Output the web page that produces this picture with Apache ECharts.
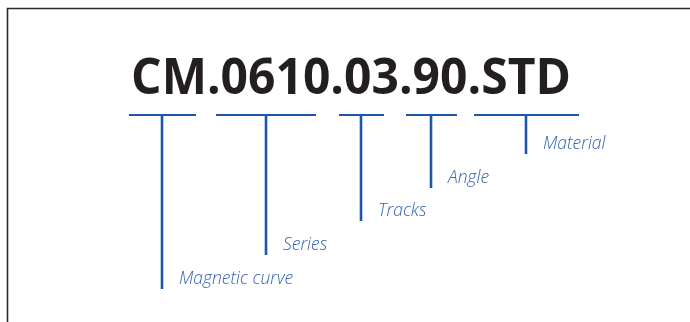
<!DOCTYPE html>
<html>
<head>
<meta charset="utf-8">
<script src="https://cdn.jsdelivr.net/npm/echarts@6/dist/echarts.min.js"></script>
<style>
html,body{margin:0;padding:0;background:#fff;}
#c{width:690px;height:322px;}
</style>
</head>
<body>
<div id="c"></div>
<script>
var codeText = 'CM.0610.03.90.STD';
var parts = ['CM', '0610', '03', '90', 'STD'];
var labels = ['Magnetic curve', 'Series', 'Tracks', 'Angle', 'Material'];
var barStart = [129, 216, 339, 406, 474];
var barEnd = [196, 316, 384, 457, 579];
var stemX = [162, 266, 361, 431, 526];
var stemBottom = [289, 255, 221, 188, 154];
var barY = 115;

var chart = echarts.init(document.getElementById('c'));
var data = parts.map(function (p, i) {
  return [barStart[i], barEnd[i], stemX[i], stemBottom[i], labels[i]];
});
chart.setOption({
  animation: false,
  grid: {left: 0, right: 0, top: 0, bottom: 0},
  xAxis: {type: 'value', min: 0, max: 690, show: false},
  yAxis: {type: 'value', min: 0, max: 322, inverse: true, show: false},
  graphic: [
    {type: 'polyline', shape: {points: [[7.5, 322], [7.5, 8.5], [690, 8.5]]},
     style: {stroke: '#2b2b2b', lineWidth: 1.6, fill: null}},
    {type: 'text', x: 351, y: 85, scaleY: 1.06, originX: 351, originY: 85,
     style: {text: codeText, textAlign: 'center', textVerticalAlign: 'middle',
       font: 'bold 48px "Open Sans"', fill: '#231f20'}}
  ],
  series: [{
    type: 'custom',
    coordinateSystem: 'cartesian2d',
    data: data,
    renderItem: function (params, api) {
      var a = api.coord([api.value(0), barY]);
      var b = api.coord([api.value(1), barY]);
      var s = api.coord([api.value(2), barY]);
      var e = api.coord([api.value(2), api.value(3)]);
      var lbl = labels[params.dataIndex];
      return {
        type: 'group',
        children: [
          {type: 'line', shape: {x1: a[0], y1: a[1], x2: b[0], y2: b[1]},
           style: {stroke: '#1d55a8', lineWidth: 2.2}},
          {type: 'line', shape: {x1: s[0], y1: s[1], x2: e[0], y2: e[1]},
           style: {stroke: '#1d55a8', lineWidth: 2.6}},
          {type: 'text', x: e[0] + 17, y: e[1] - 10,
           style: {text: lbl, textAlign: 'left', textVerticalAlign: 'middle',
             font: 'italic 300 17.5px "Open Sans"', fill: '#3562b0'}}
        ]
      };
    }
  }]
});
</script>
</body>
</html>
